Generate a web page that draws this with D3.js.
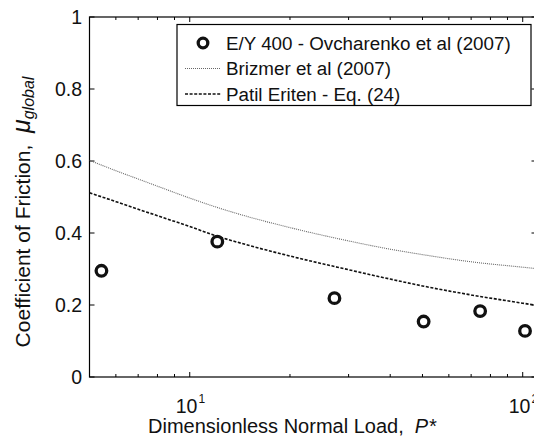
<!DOCTYPE html>
<html>
<head>
<meta charset="utf-8">
<script src="https://cdn.jsdelivr.net/npm/d3@7"></script>
<style>
  html, body { margin: 0; padding: 0; background: #fff; }
  svg { display: block; font-family: "Liberation Sans", Arial, Helvetica, sans-serif; }
  text { white-space: pre; }
</style>
</head>
<body>
<svg id="chart" width="534" height="448"></svg>
<script>
// Measured friction data (E/Y 400)
const expLoad = [5.43, 12.1, 27.2, 50.4, 74.5, 101.6];
const expMu   = [0.295, 0.376, 0.219, 0.154, 0.183, 0.128];

// Model curves sampled along P*
const curveLoad   = [5, 6, 7, 8, 10, 12, 15, 20, 30, 40, 50, 70, 100, 110];
const brizmerMu   = [0.602, 0.573, 0.550, 0.530, 0.497, 0.472, 0.445, 0.415, 0.378, 0.355, 0.340, 0.320, 0.305, 0.301];
const patilMu     = [0.512, 0.487, 0.466, 0.448, 0.418, 0.392, 0.366, 0.336, 0.298, 0.272, 0.253, 0.228, 0.205, 0.199];

const yTicks = [0, 0.2, 0.4, 0.6, 0.8, 1];
const yTickLabels = ["0", "0.2", "0.4", "0.6", "0.8", "1"];
const xMajorTicks = [10, 100];
const xMajorExp = ["1", "2"];
const xMinorTicks = [6, 7, 8, 9, 20, 30, 40, 50, 60, 70, 80, 90];

const legendLabels = ["E/Y 400 - Ovcharenko et al (2007)", "Brizmer et al (2007)", "Patil Eriten - Eq. (24)"];

const svg = d3.select("#chart");
const plotL = 89.5, plotR = 536.5, plotT = 17, plotB = 377;

const x = d3.scaleLog().domain([5, 110]).range([plotL, plotR]);
const y = d3.scaleLinear().domain([0, 1]).range([plotB, plotT]);

const tickLen = 5;
const tickFont = 19.5;

// Box
svg.append("rect")
  .attr("x", plotL).attr("y", plotT)
  .attr("width", plotR - plotL).attr("height", plotB - plotT)
  .attr("fill", "none").attr("stroke", "#000").attr("stroke-width", 1.2);

// Y ticks (inside, both sides)
const yt = svg.append("g");
yTicks.forEach((v, i) => {
  const py = y(v);
  yt.append("line").attr("x1", plotL).attr("x2", plotL + tickLen).attr("y1", py).attr("y2", py).attr("stroke", "#000");
  yt.append("line").attr("x1", plotR).attr("x2", plotR - tickLen).attr("y1", py).attr("y2", py).attr("stroke", "#000");
  yt.append("text").attr("x", plotL - 7.5).attr("y", py).attr("dy", "0.36em")
    .attr("text-anchor", "end").attr("font-size", tickFont).attr("fill", "#111")
    .text(yTickLabels[i]);
});

// X ticks
const xt = svg.append("g");
xMajorTicks.forEach((v, i) => {
  const px = x(v);
  xt.append("line").attr("x1", px).attr("x2", px).attr("y1", plotB).attr("y2", plotB - tickLen).attr("stroke", "#000");
  xt.append("line").attr("x1", px).attr("x2", px).attr("y1", plotT).attr("y2", plotT + tickLen).attr("stroke", "#000");
  const t = xt.append("text").attr("x", px - 14).attr("y", 413)
    .attr("font-size", tickFont).attr("fill", "#111");
  t.append("tspan").text("10");
  t.append("tspan").attr("dx", 1).attr("dy", -10).attr("font-size", 12).text(xMajorExp[i]);
});
xMinorTicks.forEach(v => {
  const px = x(v);
  xt.append("line").attr("x1", px).attr("x2", px).attr("y1", plotB).attr("y2", plotB - 3).attr("stroke", "#000");
  xt.append("line").attr("x1", px).attr("x2", px).attr("y1", plotT).attr("y2", plotT + 3).attr("stroke", "#000");
});

// Model curves
const lineGen = d3.line()
  .x((d, i) => x(curveLoad[i]))
  .y(d => y(d))
  .curve(d3.curveMonotoneX);

svg.append("clipPath").attr("id", "plotclip")
  .append("rect").attr("x", plotL).attr("y", plotT).attr("width", plotR - plotL).attr("height", plotB - plotT);

const plot = svg.append("g").attr("clip-path", "url(#plotclip)");

plot.append("path").datum(brizmerMu)
  .attr("d", lineGen).attr("fill", "none")
  .attr("stroke", "#666").attr("stroke-width", 1.1).attr("stroke-dasharray", "1,1");

plot.append("path").datum(patilMu)
  .attr("d", lineGen).attr("fill", "none")
  .attr("stroke", "#111").attr("stroke-width", 1.6).attr("stroke-dasharray", "3,1.6");

// Measured points
plot.selectAll("circle.exp").data(expMu).enter().append("circle")
  .attr("class", "exp")
  .attr("cx", (d, i) => x(expLoad[i])).attr("cy", d => y(d))
  .attr("r", 5.3).attr("fill", "none").attr("stroke", "#111").attr("stroke-width", 3.3);

// Legend
const lg = svg.append("g");
lg.append("rect").attr("x", 177).attr("y", 24.5).attr("width", 354).attr("height", 81)
  .attr("fill", "#fff").attr("stroke", "#000").attr("stroke-width", 1.2);
const rowY = [43, 68.5, 94];
lg.append("circle").attr("cx", 203).attr("cy", rowY[0]).attr("r", 4.8)
  .attr("fill", "none").attr("stroke", "#111").attr("stroke-width", 3.3);
lg.append("line").attr("x1", 185).attr("x2", 221).attr("y1", rowY[1]).attr("y2", rowY[1])
  .attr("stroke", "#666").attr("stroke-width", 1.1).attr("stroke-dasharray", "1,1");
lg.append("line").attr("x1", 185).attr("x2", 221).attr("y1", rowY[2]).attr("y2", rowY[2])
  .attr("stroke", "#111").attr("stroke-width", 1.6).attr("stroke-dasharray", "3,1.6");
legendLabels.forEach((s, i) => {
  lg.append("text").attr("x", 226).attr("y", rowY[i]).attr("dy", "0.36em")
    .attr("font-size", 18.8).attr("fill", "#111").text(s);
});

// Axis titles
const xl = svg.append("text").attr("x", 292).attr("y", 433).attr("text-anchor", "middle")
  .attr("font-size", 20).attr("fill", "#111");
xl.append("tspan").text("Dimensionless Normal Load,  ");
xl.append("tspan").attr("font-style", "italic").text("P*");

const yl = svg.append("text").attr("transform", "translate(30,212) rotate(-90)")
  .attr("text-anchor", "middle").attr("font-size", 21).attr("fill", "#111");
yl.append("tspan").text("Coefficient of Friction,  ");
yl.append("tspan").attr("font-style", "italic").attr("font-size", 25).text("μ");
yl.append("tspan").attr("font-style", "italic").attr("font-size", 16).attr("dy", 4).text("global");
</script>
</body>
</html>
